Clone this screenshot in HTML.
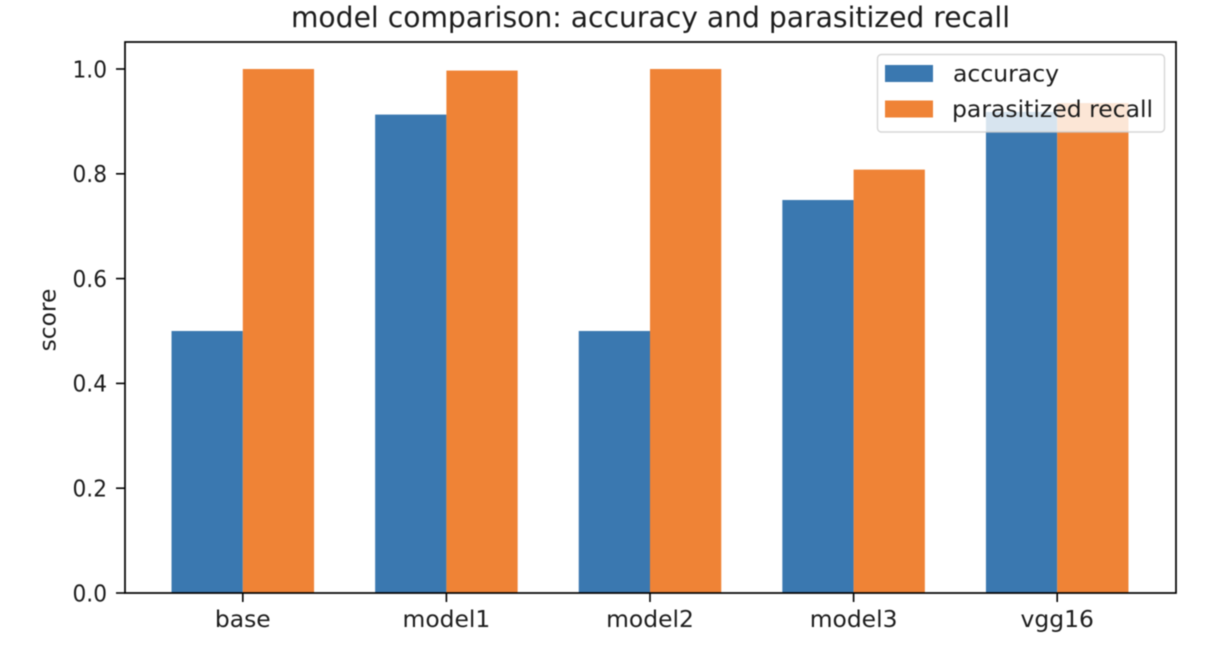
<!DOCTYPE html>
<html>
<head>
<meta charset="utf-8">
<title>model comparison</title>
<style>
html,body{margin:0;padding:0;background:#fff;width:1230px;height:650px;overflow:hidden}
svg{display:block;font-family:"DejaVu Sans","Liberation Sans",sans-serif;fill:#1c1c1c}
</style>
</head>
<body>
<svg id="chart" xmlns="http://www.w3.org/2000/svg" width="1230" height="650" viewBox="0 0 1230 650">
<rect x="0" y="0" width="1230" height="650" fill="#fff"/>
<g id="plot" style="filter:blur(0.5px)"></g>
</svg>
<script>
const categories = ['base', 'model1', 'model2', 'model3', 'vgg16'];
const accuracy = [0.5, 0.913, 0.5, 0.75, 0.918];
const recall = [1.0, 0.997, 1.0, 0.808, 0.935];
const yTicks = [0, 0.2, 0.4, 0.6, 0.8, 1.0];
const yTickLabels = ['0.0', '0.2', '0.4', '0.6', '0.8', '1.0'];
const seriesNames = ['accuracy', 'parasitized recall'];
const barWidthUnits = 0.35;

const L = 125, R = 1176, T = 42, B = 593;
const xUnit = 203.6, xZero = 242.8, yUnit = 524;
const xScale = function (i) { return xZero + i * xUnit; };
const yScale = function (v) { return B - v * yUnit; };
const BLUE = '#3a78b0', ORANGE = '#ef8336';
const plot = document.getElementById('plot');
const NS = 'http://www.w3.org/2000/svg';
function mk(tag, attrs, parent) {
  const e = document.createElementNS(NS, tag);
  for (const k in attrs) e.setAttribute(k, attrs[k]);
  (parent || plot).appendChild(e);
  return e;
}

const barsGroup = mk('g', {});


categories.forEach(function (c, i) {
  const w = barWidthUnits * xUnit;
  const a = mk('rect', { x: xScale(i) - w, y: yScale(accuracy[i]), width: w, height: B - yScale(accuracy[i]), fill: BLUE }, barsGroup);
  
  
  const r = mk('rect', { x: xScale(i), y: yScale(recall[i]), width: w, height: B - yScale(recall[i]), fill: ORANGE }, barsGroup);
  
  
});

const frame = mk('rect', { x: L, y: T, width: R - L, height: B - T, fill: 'none', stroke: '#000', 'stroke-width': 1.7 });



yTicks.forEach(function (v, i) {
  const y = yScale(v);
  const t = mk('line', { x1: L - 9, x2: L, y1: y, y2: y, stroke: '#000', 'stroke-width': 1.6 });
  
  
  const l = mk('text', { x: L - 18, y: y + 8.3, 'text-anchor': 'end', 'font-size': 23.4, textLength: 34.5, lengthAdjust: 'spacingAndGlyphs' });
  l.textContent = yTickLabels[i];
  
  
});

categories.forEach(function (c, i) {
  const x = xScale(i);
  const t = mk('line', { x1: x, x2: x, y1: B, y2: B + 9, stroke: '#000', 'stroke-width': 1.6 });
  
  
  const l = mk('text', { x: x, y: 627, 'text-anchor': 'middle', 'font-size': 23.4 });
  l.textContent = c;
  
  
});

const title = mk('text', { x: 650.5, y: 27, 'text-anchor': 'middle', 'font-size': 28.2 });
title.textContent = 'model comparison: accuracy and parasitized recall';



const yTitle = mk('text', { x: 0, y: 0, 'text-anchor': 'middle', 'font-size': 23.4, transform: 'translate(55.5 320) rotate(-90)' });
yTitle.textContent = 'score';



const legend = mk('g', {});


const legendBox = mk('rect', { x: 877.5, y: 54.5, width: 287, height: 77.5, rx: 4, fill: '#fff', 'fill-opacity': 0.8, stroke: '#ccc', 'stroke-opacity': 0.8, 'stroke-width': 1.4 }, legend);


const swatchY = [65, 100.5];
const colors = [BLUE, ORANGE];
seriesNames.forEach(function (n, i) {
  const s = mk('rect', { x: 885, y: swatchY[i], width: 48, height: 17, fill: colors[i] }, legend);
  
  
  const l = mk('text', { x: i === 0 ? 953 : 952, y: swatchY[i] + 16.5, 'font-size': 23.5 }, legend);
  l.textContent = n;
  
  
});
</script>
</body>
</html>
